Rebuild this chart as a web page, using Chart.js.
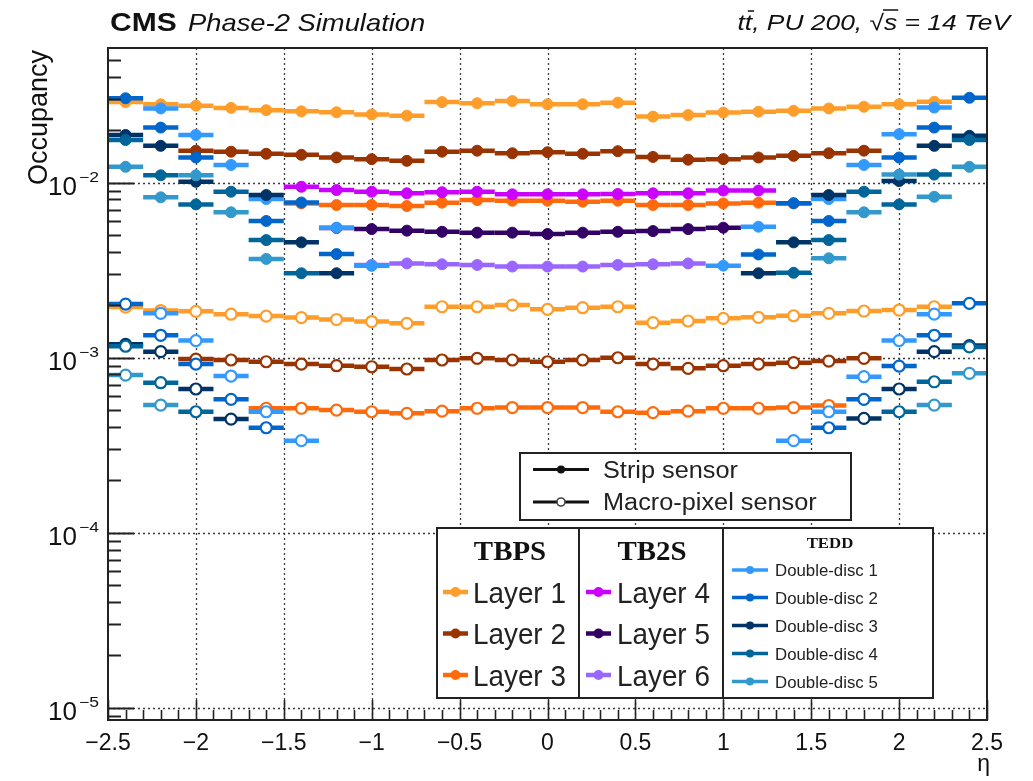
<!DOCTYPE html>
<html>
<head>
<meta charset="utf-8">
<script src="https://cdn.jsdelivr.net/npm/chart.js@4.4.1/dist/chart.umd.min.js"></script>
<style>
  html, body { margin: 0; padding: 0; background: #ffffff; }
  #wrap { width: 1033px; height: 781px; }
</style>
</head>
<body>
<div id="wrap"><canvas id="occ" width="1033" height="781"></canvas></div>
<script>
// ---------------- data: occupancy per eta bin (bin width 0.2) ----------------
const etaL1 = [-2.4,-2.2,-2.0,-1.8,-1.6,-1.4,-1.2,-1.0,-0.8,-0.6,-0.4,-0.2,0.0,0.2,0.4,0.6,0.8,1.0,1.2,1.4,1.6,1.8,2.0,2.2];
const stripL1 = [0.0288,0.0280,0.0275,0.0267,0.0259,0.0255,0.0252,0.0245,0.0241,0.0288,0.0284,0.0292,0.0280,0.0280,0.0286,0.0238,0.0243,0.0251,0.0254,0.0257,0.0265,0.0271,0.0280,0.0289];
const macroL1 = [0.001943,0.001856,0.001837,0.001768,0.001726,0.001692,0.001649,0.001606,0.001568,0.001951,0.001951,0.001995,0.001885,0.001926,0.001951,0.001581,0.001617,0.001675,0.001697,0.001733,0.001789,0.001844,0.001868,0.001951];

const etaL2 = [-2.0,-1.8,-1.6,-1.4,-1.2,-1.0,-0.8,-0.6,-0.4,-0.2,0.0,0.2,0.4,0.6,0.8,1.0,1.2,1.4,1.6,1.8];
const stripL2 = [0.0152,0.0150,0.0146,0.0144,0.0139,0.0136,0.0133,0.0150,0.0152,0.0147,0.0149,0.0146,0.0151,0.0140,0.0135,0.0136,0.0139,0.0142,0.0147,0.0152];
const macroL2 = [0.00098,0.000968,0.000946,0.000918,0.000898,0.000886,0.00086,0.000968,0.000989,0.000968,0.000946,0.000968,0.000997,0.000918,0.000868,0.000898,0.000918,0.000934,0.000955,0.000989];

const etaL3Strip = [-1.4,-1.2,-1.0,-0.8,-0.6,-0.4,-0.2,0.0,0.2,0.4,0.6,0.8,1.0,1.2,1.4];
const stripL3 = [0.0076,0.00744,0.00744,0.00734,0.00767,0.00794,0.00787,0.00787,0.00777,0.00787,0.00744,0.00744,0.0076,0.00767,0.0076];
const etaL3Macro = [-1.6,-1.4,-1.2,-1.0,-0.8,-0.6,-0.4,-0.2,0.0,0.2,0.4,0.6,0.8,1.0,1.2,1.4,1.6];
const macroL3 = [0.000513,0.000513,0.000501,0.00049,0.00048,0.000494,0.000513,0.000518,0.000518,0.000518,0.00049,0.000484,0.000494,0.000513,0.000513,0.000518,0.000532];

const etaL4 = [-1.4,-1.2,-1.0,-0.8,-0.6,-0.4,-0.2,0.0,0.2,0.4,0.6,0.8,1.0,1.2];
const stripL4 = [0.00946,0.00906,0.00886,0.00868,0.0088,0.00886,0.00856,0.00856,0.00856,0.0086,0.00868,0.00868,0.009,0.009];

const etaL5 = [-1.2,-1.0,-0.8,-0.6,-0.4,-0.2,0.0,0.2,0.4,0.6,0.8,1.0];
const stripL5 = [0.0055,0.00542,0.00531,0.00523,0.00517,0.00517,0.00508,0.00517,0.00523,0.00528,0.00542,0.00552];

const etaL6 = [-1.0,-0.8,-0.6,-0.4,-0.2,0.0,0.2,0.4,0.6,0.8];
const stripL6 = [0.00338,0.00345,0.00341,0.00338,0.00331,0.00331,0.00331,0.00338,0.00341,0.00345];

const etaD1Strip = [-2.2,-2.0,-1.8,-1.6,-1.2,-1.0,1.0,1.2,1.6,1.8,2.0,2.2];
const stripD1 = [0.0265,0.0187,0.0126,0.00805,0.00552,0.00334,0.00335,0.00559,0.00805,0.0126,0.0189,0.0268];
const etaD1Macro = [-2.2,-2.0,-1.8,-1.6,-1.4,1.4,1.6,1.8,2.0,2.2];
const macroD1 = [0.00179,0.00125,0.000784,0.00049,0.000335,0.000335,0.00049,0.000777,0.00125,0.00177];

const etaD2Strip = [-2.4,-2.2,-2.0,-1.6,-1.4,-1.2,1.2,1.4,1.6,2.0,2.2,2.4];
const stripD2 = [0.0303,0.0206,0.0139,0.00603,0.00769,0.0039,0.00388,0.00762,0.00603,0.0139,0.0206,0.0305];
const etaD2Macro = [-2.4,-2.2,-2.0,-1.8,-1.6,1.6,1.8,2.0,2.2,2.4];
const macroD2 = [0.00202,0.00134,0.000918,0.000577,0.000397,0.000397,0.000577,0.000894,0.00134,0.00204];

const etaD3Strip = [-2.4,-2.2,-2.0,-1.6,-1.4,-1.2,1.2,1.4,1.6,2.0,2.2,2.4];
const stripD3 = [0.0187,0.0162,0.0101,0.00848,0.00455,0.00303,0.00303,0.00455,0.00848,0.0102,0.0162,0.0185];
const etaD3Macro = [-2.4,-2.2,-2.0,-1.8,1.8,2.0,2.2,2.4];
const macroD3 = [0.00119,0.00108,0.000661,0.000445,0.000449,0.000661,0.00108,0.00117];

const etaD4Strip = [-2.4,-2.2,-2.0,-1.8,-1.6,-1.4,1.4,1.6,1.8,2.0,2.2,2.4];
const stripD4 = [0.0175,0.0110,0.0075,0.00886,0.00469,0.00303,0.00305,0.00469,0.00886,0.0075,0.0111,0.0175];
const etaD4Macro = [-2.4,-2.2,-2.0,2.0,2.2,2.4];
const macroD4 = [0.00116,0.000718,0.00049,0.00049,0.000727,0.00115];

const etaD5Strip = [-2.4,-2.2,-2.0,-1.8,-1.6,1.6,1.8,2.0,2.2,2.4];
const stripD5 = [0.0123,0.00823,0.0110,0.00676,0.00366,0.00369,0.00676,0.0111,0.00829,0.0123];
const etaD5Macro = [-2.4,-2.2,2.2,2.4];
const macroD5 = [0.000794,0.000535,0.000535,0.000812];

// ---------------- names, colours, axis labels ----------------
const layerNames = ['Layer 1','Layer 2','Layer 3','Layer 4','Layer 5','Layer 6'];
const layerColors = ['#ff9d2b','#993300','#ff6a0d','#cc00ff','#330066','#9966ff'];
const discNames = ['Double-disc 1','Double-disc 2','Double-disc 3','Double-disc 4','Double-disc 5'];
const discColors = ['#3399ff','#0066cc','#003366','#006699','#3399cc'];
const xTickValues = [-2.5,-2,-1.5,-1,-0.5,0,0.5,1,1.5,2,2.5];
const xTickLabels = ['\u22122.5','\u22122','\u22121.5','\u22121','\u22120.5','0','0.5','1','1.5','2','2.5'];
const yDecades = [1e-5,1e-4,1e-3,1e-2];
const yDecadeExponents = ['\u22125','\u22124','\u22123','\u22122'];
const yMin = 8.49e-6, yMax = 0.0587;
const binHalf = 0.1;

const SANS = "'Liberation Sans', Arial, Helvetica, sans-serif";
const SERIF = "'Liberation Serif', 'Times New Roman', serif";

// ---------------- datasets ----------------
function points(etas, vals) { return etas.map((e, i) => ({ x: e, y: vals[i] })); }
function makeSet(label, color, etas, vals, open) {
  return {
    label: label,
    data: points(etas, vals),
    barColor: color,
    showLine: false,
    pointRadius: open ? 5.5 : 5.5,
    pointHoverRadius: 5.5,
    pointBackgroundColor: open ? '#ffffff' : color,
    pointBorderColor: color,
    pointBorderWidth: open ? 2.2 : 1
  };
}

// discs first so they are painted above the barrel layers
const datasets = [
  makeSet('Double-disc 5 strip', discColors[4], etaD5Strip, stripD5, false),
  makeSet('Double-disc 5 macro', discColors[4], etaD5Macro, macroD5, true),
  makeSet('Double-disc 4 strip', discColors[3], etaD4Strip, stripD4, false),
  makeSet('Double-disc 4 macro', discColors[3], etaD4Macro, macroD4, true),
  makeSet('Double-disc 3 strip', discColors[2], etaD3Strip, stripD3, false),
  makeSet('Double-disc 3 macro', discColors[2], etaD3Macro, macroD3, true),
  makeSet('Double-disc 2 strip', discColors[1], etaD2Strip, stripD2, false),
  makeSet('Double-disc 2 macro', discColors[1], etaD2Macro, macroD2, true),
  makeSet('Double-disc 1 strip', discColors[0], etaD1Strip, stripD1, false),
  makeSet('Double-disc 1 macro', discColors[0], etaD1Macro, macroD1, true),
  makeSet('Layer 4 strip', layerColors[3], etaL4, stripL4, false),
  makeSet('Layer 5 strip', layerColors[4], etaL5, stripL5, false),
  makeSet('Layer 6 strip', layerColors[5], etaL6, stripL6, false),
  makeSet('Layer 1 strip', layerColors[0], etaL1, stripL1, false),
  makeSet('Layer 1 macro', layerColors[0], etaL1, macroL1, true),
  makeSet('Layer 2 strip', layerColors[1], etaL2, stripL2, false),
  makeSet('Layer 2 macro', layerColors[1], etaL2, macroL2, true),
  makeSet('Layer 3 strip', layerColors[2], etaL3Strip, stripL3, false),
  makeSet('Layer 3 macro', layerColors[2], etaL3Macro, macroL3, true)
];

// ---------------- text helper (horizontal scale sx) ----------------
function drawText(ctx, s, x, y, font, align, sx, color) {
  ctx.save();
  ctx.font = font;
  ctx.textBaseline = 'alphabetic';
  ctx.textAlign = 'left';
  const w = ctx.measureText(s).width * sx;
  const x0 = align === 'center' ? x - w / 2 : (align === 'right' ? x - w : x);
  ctx.translate(x0, y);
  ctx.scale(sx, 1);
  ctx.fillStyle = color || '#111111';
  ctx.fillText(s, 0, 0);
  ctx.restore();
  return x0;
}

function legendSample(ctx, x1, x2, y, color, lw, r, open) {
  ctx.save();
  ctx.strokeStyle = color;
  ctx.lineWidth = lw;
  ctx.beginPath(); ctx.moveTo(x1, y); ctx.lineTo(x2, y); ctx.stroke();
  ctx.beginPath(); ctx.arc((x1 + x2) / 2, y, r, 0, Math.PI * 2);
  if (open) {
    ctx.fillStyle = '#ffffff'; ctx.fill();
    ctx.lineWidth = 1.6; ctx.strokeStyle = '#444444'; ctx.stroke();
  } else {
    ctx.fillStyle = color; ctx.fill();
  }
  ctx.restore();
}

// ---------------- plugin: grid, error bars, frame, labels, legend ----------------
const rootStyle = {
  id: 'rootStyle',
  beforeDatasetsDraw(chart) {
    const { ctx, chartArea: a, scales: { x, y } } = chart;
    ctx.save();
    ctx.strokeStyle = '#3a3a3a';
    ctx.lineWidth = 1.3;
    ctx.setLineDash([2, 3]);
    xTickValues.forEach(v => {
      if (v <= -2.5 || v >= 2.5) return;
      const px = Math.round(x.getPixelForValue(v)) + 0.5;
      ctx.beginPath(); ctx.moveTo(px, a.top); ctx.lineTo(px, a.bottom); ctx.stroke();
    });
    yDecades.forEach(v => {
      const py = Math.round(y.getPixelForValue(v)) + 0.5;
      ctx.beginPath(); ctx.moveTo(a.left, py); ctx.lineTo(a.right, py); ctx.stroke();
    });
    ctx.restore();
  },
  beforeDatasetDraw(chart, args) {
    const { ctx, scales: { x, y } } = chart;
    const ds = chart.data.datasets[args.index];
    ctx.save();
    ctx.strokeStyle = ds.barColor;
    ctx.lineWidth = 4.5;
    ds.data.forEach(p => {
      const py = y.getPixelForValue(p.y);
      ctx.beginPath();
      ctx.moveTo(x.getPixelForValue(p.x - binHalf), py);
      ctx.lineTo(x.getPixelForValue(p.x + binHalf), py);
      ctx.stroke();
    });
    ctx.restore();
  },
  afterDatasetsDraw(chart) {
    const { ctx, chartArea: a, scales: { x, y } } = chart;
    ctx.save();
    // ticks on the inside of the frame
    ctx.strokeStyle = '#222222';
    ctx.lineWidth = 2;
    for (let n = -6; n <= -1; n++) {
      for (let k = 1; k <= 9; k++) {
        const v = k * Math.pow(10, n);
        if (v <= yMin || v >= yMax) continue;
        const py = Math.round(y.getPixelForValue(v)) + 0.5;
        const len = k === 1 ? 26 : 13;
        ctx.beginPath(); ctx.moveTo(a.left, py); ctx.lineTo(a.left + len, py); ctx.stroke();
      }
    }
    ctx.lineWidth = 1.6;
    for (let i = -25; i <= 25; i++) {
      const px = Math.round(x.getPixelForValue(i / 10)) + 0.5;
      const len = i % 5 === 0 ? 20 : 10;
      ctx.beginPath(); ctx.moveTo(px, a.bottom); ctx.lineTo(px, a.bottom - len); ctx.stroke();
    }
    // frame
    ctx.lineWidth = 2;
    ctx.strokeStyle = '#222222';
    ctx.strokeRect(a.left, a.top, a.right - a.left, a.bottom - a.top);
    ctx.restore();

    // x tick labels
    xTickValues.forEach((v, i) => {
      drawText(ctx, xTickLabels[i], x.getPixelForValue(v), 750, '23px ' + SANS, 'center', 1, '#111');
    });
    // y decade labels
    yDecades.forEach((v, i) => {
      const py = y.getPixelForValue(v);
      drawText(ctx, '10', 77, py + 12.5, '26px ' + SANS, 'right', 1, '#111');
      drawText(ctx, yDecadeExponents[i], 79, py - 1, '14px ' + SANS, 'left', 1.25, '#111');
    });
    // axis titles
    ctx.save();
    ctx.translate(40, 50);
    ctx.rotate(-Math.PI / 2);
    ctx.font = '27px ' + SANS;
    ctx.textAlign = 'right';
    ctx.textBaseline = 'middle';
    ctx.fillStyle = '#111';
    ctx.fillText('Occupancy', 0, 0);
    ctx.restore();
    drawText(ctx, '\u03b7', 990, 771, '23px ' + SANS, 'right', 1, '#111');

    // header
    drawText(ctx, 'CMS', 110, 31, 'bold 25px ' + SANS, 'left', 1.2, '#111');
    drawText(ctx, 'Phase-2 Simulation', 188, 31, 'italic 24px ' + SANS, 'left', 1.14, '#111');
    const rf = 'italic 22px ' + SANS, rsx = 1.2;
    const rtext = 'tt, PU 200, \u221as = 14 TeV';
    const rx0 = drawText(ctx, rtext, 1010, 30, rf, 'right', rsx, '#111');
    ctx.save();
    ctx.font = rf;
    const m = s => ctx.measureText(s).width * rsx;
    ctx.strokeStyle = '#111';
    ctx.lineWidth = 1.6;
    ctx.beginPath();
    ctx.moveTo(rx0 + m('t') + 3, 11); ctx.lineTo(rx0 + m('tt') + 2, 11);
    ctx.moveTo(rx0 + m('tt, PU 200, \u221a') - 1, 10); ctx.lineTo(rx0 + m('tt, PU 200, \u221as') + 1, 10);
    ctx.stroke();
    ctx.restore();

    // legend: sensor types
    ctx.save();
    ctx.fillStyle = '#ffffff';
    ctx.fillRect(520, 453, 331, 67);
    ctx.fillRect(437, 528, 496, 170);
    ctx.strokeStyle = '#222';
    ctx.lineWidth = 2;
    ctx.strokeRect(520, 453, 331, 67);
    ctx.strokeRect(437, 528, 496, 170);
    ctx.beginPath();
    ctx.moveTo(579, 528); ctx.lineTo(579, 698);
    ctx.moveTo(723, 528); ctx.lineTo(723, 698);
    ctx.stroke();
    ctx.restore();

    legendSample(ctx, 533, 589, 469.5, '#111', 3, 4, false);
    legendSample(ctx, 533, 589, 502, '#111', 3, 4, true);
    drawText(ctx, 'Strip sensor', 603, 478, '23px ' + SANS, 'left', 1.1, '#222');
    drawText(ctx, 'Macro-pixel sensor', 603, 510, '23px ' + SANS, 'left', 1.1, '#222');

    // legend: barrel layers and discs
    drawText(ctx, 'TBPS', 510, 560, 'bold 27px ' + SERIF, 'center', 1.07, '#111');
    drawText(ctx, 'TB2S', 652, 560, 'bold 27px ' + SERIF, 'center', 1.07, '#111');
    drawText(ctx, 'TEDD', 830, 548, 'bold 15px ' + SERIF, 'center', 1.12, '#111');
    const layerRows = [592, 633.5, 675];
    for (let i = 0; i < 3; i++) {
      legendSample(ctx, 443, 468, layerRows[i], layerColors[i], 4.5, 5, false);
      drawText(ctx, layerNames[i], 473, layerRows[i] + 10.5, '29px ' + SANS, 'left', 0.96, '#222');
      legendSample(ctx, 586, 611, layerRows[i], layerColors[i + 3], 4.5, 5, false);
      drawText(ctx, layerNames[i + 3], 617, layerRows[i] + 10.5, '29px ' + SANS, 'left', 0.96, '#222');
    }
    const discRows = [570, 597.5, 625.5, 653.5, 681.5];
    discNames.forEach((name, i) => {
      legendSample(ctx, 732, 768, discRows[i], discColors[i], 3.5, 4, false);
      drawText(ctx, name, 775, discRows[i] + 6, '16px ' + SANS, 'left', 1.05, '#222');
    });
  }
};

new Chart(document.getElementById('occ'), {
  type: 'scatter',
  data: { datasets: datasets },
  options: {
    responsive: false,
    animation: false,
    devicePixelRatio: 1,
    layout: { padding: { left: 0, right: 46, top: 48, bottom: 0 } },
    plugins: { legend: { display: false }, tooltip: { enabled: false }, title: { display: false } },
    events: [],
    scales: {
      x: {
        type: 'linear', min: -2.5, max: 2.5,
        ticks: { display: false }, grid: { display: false, drawTicks: false }, border: { display: false },
        afterFit: s => { s.height = 61; }
      },
      y: {
        type: 'logarithmic', min: yMin, max: yMax,
        ticks: { display: false }, grid: { display: false, drawTicks: false }, border: { display: false },
        afterFit: s => { s.width = 108; }
      }
    }
  },
  plugins: [rootStyle]
});
</script>
</body>
</html>
